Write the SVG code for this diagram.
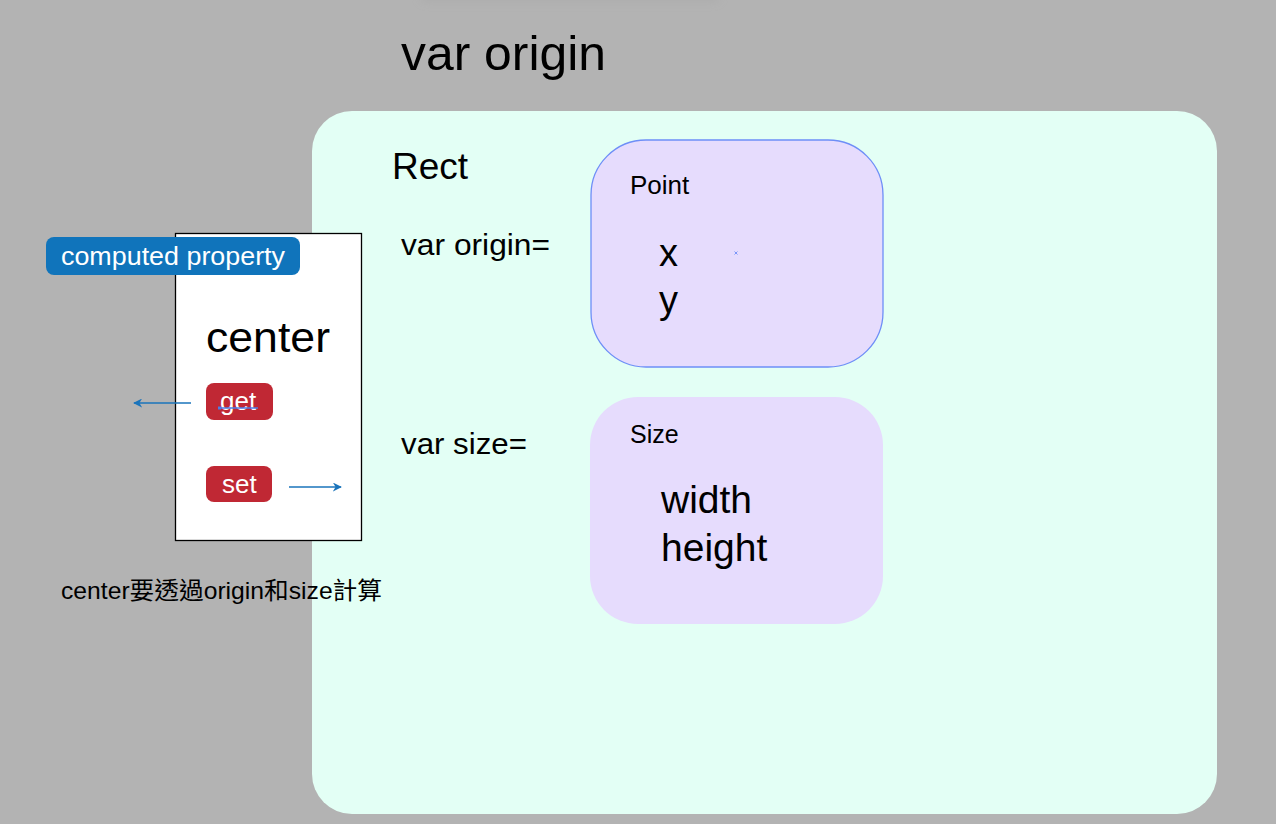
<svg xmlns="http://www.w3.org/2000/svg" width="1276" height="824" viewBox="0 0 1276 824">
<defs>
<style>
text{font-family:"Liberation Sans",Arial,"Noto Sans CJK TC",sans-serif;fill:#000}
.w{fill:#fff}
.conn{stroke:#1a74bb;stroke-width:1.6;fill:none}
</style>
<marker id="ah" viewBox="0 0 10 10" refX="9" refY="5" markerWidth="9" markerHeight="9" markerUnits="userSpaceOnUse" orient="auto">
<path d="M0,0 L10,5 L0,10 L3,5 Z" fill="#1a74bb"/>
</marker>
<filter id="sh" x="-20%" y="-200%" width="140%" height="500%"><feGaussianBlur stdDeviation="4"/></filter>
</defs>
<rect x="0" y="0" width="1276" height="824" fill="#b3b3b3"/>
<rect x="420" y="-12" width="300" height="14" rx="7" fill="#a9a9a9" filter="url(#sh)" opacity="0.6"/>
<text x="401" y="70" font-size="48" textLength="205" lengthAdjust="spacingAndGlyphs">var origin</text>
<g id="rect-struct">
<rect x="312" y="111" width="905" height="703" rx="40" fill="#e3fff5"/>
<text x="392" y="179" font-size="37">Rect</text>
<text x="401" y="255" font-size="30" textLength="149" lengthAdjust="spacingAndGlyphs">var origin=</text>
<text x="401" y="454" font-size="30" textLength="126" lengthAdjust="spacingAndGlyphs">var size=</text>
</g>
<g id="point">
<rect x="591" y="140" width="292" height="227" rx="55" fill="#e6dcfd" stroke="#6e8ef7" stroke-width="1.3"/>
<text x="630" y="194" font-size="26">Point</text>
<text x="659" y="266" font-size="38">x</text>
<text x="659" y="313" font-size="38">y</text>
<path d="M734.5,251.5 l3,3 M737.5,251.5 l-3,3" stroke="#6e8ef7" stroke-width="0.9"/>
</g>
<g id="size">
<rect x="590" y="397" width="293" height="227" rx="48" fill="#e6dcfd"/>
<text x="630" y="443" font-size="25">Size</text>
<text x="661" y="513" font-size="39">width</text>
<text x="661" y="561" font-size="39">height</text>
</g>
<g id="center">
<rect x="175.5" y="233.5" width="186" height="307" fill="#fff" stroke="#000" stroke-width="1.3"/>
<text x="206" y="352" font-size="43" textLength="124" lengthAdjust="spacingAndGlyphs">center</text>
</g>
<g id="computed-property">
<rect x="46" y="237" width="254" height="38" rx="8" fill="#1074bb"/>
<text class="w" x="61" y="265" font-size="25" textLength="224" lengthAdjust="spacingAndGlyphs">computed property</text>
</g>
<g id="get">
<rect x="206" y="383" width="67" height="37" rx="8" fill="#c02834"/>
<text class="w" x="220" y="410" font-size="26">get</text>
<line x1="219" y1="408" x2="258" y2="408" stroke="#4d7ce6" stroke-width="1.3"/>
<rect x="218" y="406.5" width="3" height="3" fill="#4d7ce6"/>
</g>
<g id="set">
<rect x="206" y="466" width="66" height="36" rx="8" fill="#c02834"/>
<text class="w" x="222" y="493" font-size="26">set</text>
</g>
<g id="connectors">
<line class="conn" x1="191" y1="403" x2="134" y2="403" marker-end="url(#ah)"/>
<line class="conn" x1="289" y1="487" x2="341" y2="487" marker-end="url(#ah)"/>
</g>
<text x="61" y="599" font-size="24" textLength="321" lengthAdjust="spacingAndGlyphs">center要透過origin和size計算</text>
</svg>
